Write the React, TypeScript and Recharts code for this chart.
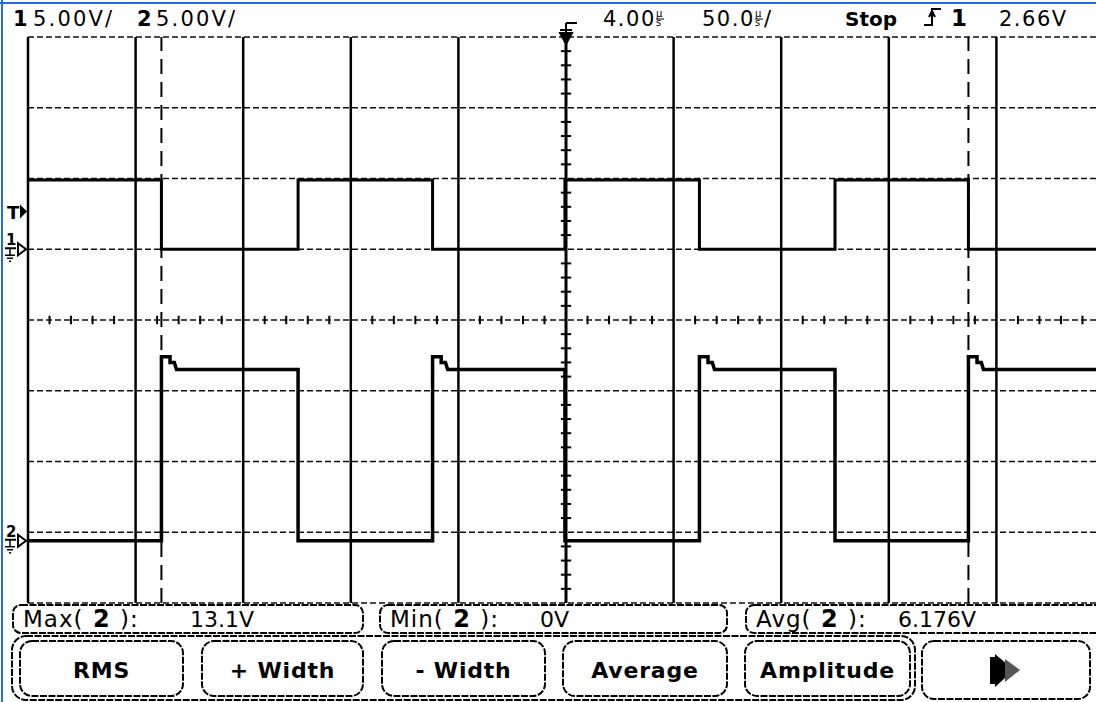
import React from "react";
import { LineChart, Line, XAxis, YAxis, ReferenceLine, ReferenceDot } from "recharts";

const W = 1096;
const H = 702;
const PLOT_LEFT = 28;
const PLOT_TOP = 37;
const PLOT_BOTTOM = 603;

// time base: 50 µs/div, delay 4 µs
const delayUs = 4;
const timeGrid = [-246, -196, -146, -96, -46, 4, 54, 104, 154, 204, 254];
// vertical divisions
const divGrid = [-4, -3, -2, -1, 0, 1, 2, 3, 4];

// channel 1 (5 V/div)
const ch1Times = [-246, -184, -184, -120.5, -120.5, -58, -58, 3.5, 3.5, 66, 66, 129, 129, 191, 191, 254];
const ch1Volts = [4.9, 4.9, 0, 0, 4.9, 4.9, 0, 0, 4.9, 4.9, 0, 0, 4.9, 4.9, 0, 0];

// channel 2 (5 V/div), overshoot on each rising edge
const ch2Times = [
  -246, -184, -184, -180, -180, -178, -177, -120.5, -120.5,
  -58, -58, -54, -54, -52, -51, 3.5, 3.5,
  66, 66, 70, 70, 72, 73, 129, 129,
  191, 191, 195, 195, 197, 198, 254,
];
const ch2Volts = [
  0, 0, 13.0, 13.0, 12.6, 12.6, 12.1, 12.1, 0,
  0, 13.0, 13.0, 12.6, 12.6, 12.1, 12.1, 0,
  0, 13.0, 13.0, 12.6, 12.6, 12.1, 12.1, 0,
  0, 13.0, 13.0, 12.6, 12.6, 12.1, 12.1,
];

const cursorTimes = [-184, 191];
const triggerLevel = 2.66;
const ch1Domain = [-25, 15];
const ch2Domain = [-4.4, 35.6];

const measurements = [
  { name: "Max", value: "13.1V", x: 13, w: 350, valueX: 190 },
  { name: "Min", value: "0V", x: 380, w: 347, valueX: 540 },
  { name: "Avg", value: "6.176V", x: 746, w: 360, valueX: 898 },
];
const softkeys = [
  { label: "RMS", x: 20, w: 163 },
  { label: "+ Width", x: 202, w: 161 },
  { label: "- Width", x: 382, w: 163 },
  { label: "Average", x: 563, w: 164 },
  { label: "Amplitude", x: 745, w: 165 },
];

const ch1Data = ch1Times.map((t, i) => ({ t, v: ch1Volts[i] }));
const ch2Data = ch2Times.map((t, i) => ({ t, v: ch2Volts[i] }));
const minorTimes = timeGrid.slice(0, -1).flatMap((t) => [1, 2, 3, 4].map((k) => t + k * 10));
const minorDivs = divGrid.slice(0, -1).flatMap((d) => [1, 2, 3, 4].map((k) => d + k * 0.2));

const FONT = "'DejaVu Sans', Verdana, sans-serif";

function TriggerMark(props: any) {
  const { cx, cy } = props;
  return (
    <g>
      <text x={cx - 21} y={cy + 7} fontSize={18} fontWeight="bold" fontFamily={FONT}>
        T
      </text>
      <path d={`M${cx - 8} ${cy - 7} L${cx - 1} ${cy} L${cx - 8} ${cy + 7} Z`} fill="#000" />
    </g>
  );
}

function ChannelMark(props: any) {
  const { cx, cy, label } = props;
  return (
    <g stroke="#000" fill="none">
      <text x={cx - 22} y={cy - 4} fontSize={15} fontWeight="bold" fontFamily={FONT} fill="#000" stroke="none">
        {label}
      </text>
      <line x1={cx - 23} y1={cy - 1} x2={cx - 12} y2={cy - 1} strokeWidth={2} />
      <line x1={cx - 18} y1={cy - 1} x2={cx - 18} y2={cy + 6} strokeWidth={1.5} />
      <line x1={cx - 23} y1={cy + 6} x2={cx - 13} y2={cy + 6} strokeWidth={1.5} />
      <line x1={cx - 21} y1={cy + 9} x2={cx - 15} y2={cy + 9} strokeWidth={1.5} />
      <line x1={cx - 19} y1={cy + 12} x2={cx - 17} y2={cy + 12} strokeWidth={1.5} />
      <path d={`M${cx - 10} ${cy - 6} L${cx - 2} ${cy} L${cx - 10} ${cy + 6} Z`} strokeWidth={2} fill="#fff" />
    </g>
  );
}

function DelayMark(props: any) {
  const { cx, cy } = props;
  return (
    <g stroke="#000" strokeWidth={2}>
      <line x1={cx} y1={cy - 14} x2={cx + 11} y2={cy - 14} />
      <line x1={cx} y1={cy - 14} x2={cx} y2={cy} />
      <line x1={cx - 6} y1={cy - 7} x2={cx + 6} y2={cy - 7} />
      <path d={`M${cx - 6} ${cy - 4} L${cx + 6} ${cy - 4} L${cx} ${cy + 7} Z`} fill="#000" />
    </g>
  );
}

function MicroSec({ x, y }: { x: number; y: number }) {
  return (
    <g fontSize={10} fontFamily={FONT}>
      <text x={x} y={y - 9}>µ</text>
      <line x1={x} y1={y - 7} x2={x + 8} y2={y - 7} stroke="#000" strokeWidth={1} />
      <text x={x} y={y}>s</text>
    </g>
  );
}

function Overlay() {
  return (
    <svg width={W} height={H} style={{ position: "absolute", left: 0, top: 0, pointerEvents: "none" }}>
      <rect x={1} y={0} width={2} height={H} fill="#2b67dd" />
      <rect x={0} y={2} width={W} height={2} fill="#2b67dd" />

      <g fontFamily={FONT} fill="#000">
        <text x={13} y={26} fontSize={21} fontWeight="bold">1</text>
        <text x={33} y={26} fontSize={21} letterSpacing={2.2}>5.00V/</text>
        <text x={137} y={26} fontSize={21} fontWeight="bold">2</text>
        <text x={156} y={26} fontSize={21} letterSpacing={2.2}>5.00V/</text>

        <text x={603} y={26} fontSize={21} letterSpacing={1.5}>4.00</text>
        <MicroSec x={656} y={26} />
        <text x={702} y={26} fontSize={21} letterSpacing={1.5}>50.0</text>
        <MicroSec x={755} y={26} />
        <text x={764} y={26} fontSize={21}>/</text>
        <text x={845} y={26} fontSize={20} fontWeight="bold">Stop</text>
        <path d="M924 25 H932 V9 H941 M929 17 L932 11 L935 17" stroke="#000" strokeWidth={2} fill="none" />
        <text x={951} y={26} fontSize={23} fontWeight="bold">1</text>
        <text x={999} y={26} fontSize={21} letterSpacing={1.5}>2.66V</text>
      </g>

      <g fontFamily={FONT} fill="#000">
        {measurements.map((m) => (
          <g key={m.name}>
            <rect x={m.x} y={605} width={m.w} height={28} rx={8} fill="none" stroke="#000" strokeWidth={2} strokeDasharray="7 1.5" />
            <text x={m.x + 10} y={627} fontSize={23} letterSpacing={1}>
              {m.name}(<tspan fontWeight="bold" fontSize={24}> 2 </tspan>):
            </text>
            <text x={m.valueX} y={627} fontSize={22}>{m.value}</text>
          </g>
        ))}

        <rect x={12} y={636} width={903} height={64} rx={14} fill="none" stroke="#000" strokeWidth={2} strokeDasharray="7 1.5" />
        {softkeys.map((k) => (
          <g key={k.label}>
            <rect x={k.x} y={641} width={k.w} height={55} rx={12} fill="none" stroke="#000" strokeWidth={2} strokeDasharray="7 1.5" />
            <text x={k.x + k.w / 2} y={678} fontSize={22} fontWeight="bold" letterSpacing={0.8} textAnchor="middle">
              {k.label}
            </text>
          </g>
        ))}
        <rect x={922} y={641} width={168} height={58} rx={12} fill="none" stroke="#000" strokeWidth={2} strokeDasharray="7 1.5" />
        <rect x={990} y={657} width={6} height={27} fill="#000" />
        <path d="M995 654 L1014 670 L995 687 Z" fill="#000" />
        <path d="M1005 659 L1020 670 L1005 682 Z" fill="#555" />
      </g>
    </svg>
  );
}

export default function App() {
  return (
    <div
      style={{
        position: "fixed",
        left: 0,
        top: 0,
        width: W,
        height: H,
        overflow: "hidden",
        background: "#fff",
        fontFamily: FONT,
      }}
    >
      <div style={{ position: "absolute", left: 0, top: 0 }}>
        <LineChart
          width={1112}
          height={H}
          margin={{ top: PLOT_TOP, right: 8, bottom: H - PLOT_BOTTOM, left: PLOT_LEFT }}
        >
          <XAxis type="number" dataKey="t" domain={[-246, 254]} hide allowDataOverflow />
          <YAxis yAxisId="div" type="number" domain={[-4, 4]} hide allowDataOverflow />
          <YAxis yAxisId="ch1" type="number" domain={ch1Domain} hide allowDataOverflow />
          <YAxis yAxisId="ch2" type="number" domain={ch2Domain} hide allowDataOverflow />

          {divGrid.map((d) => (
            <ReferenceLine key={`h${d}`} yAxisId="div" y={d} stroke="#111" strokeWidth={1.5} strokeDasharray="6 3" />
          ))}
          {timeGrid.map((t) => (
            <ReferenceLine key={`v${t}`} yAxisId="div" x={t} stroke="#000" strokeWidth={t === delayUs ? 3 : 2.5} />
          ))}
          {minorTimes.map((t) => (
            <ReferenceLine
              key={`mt${t}`}
              yAxisId="div"
              segment={[{ x: t, y: -0.06 }, { x: t, y: 0.06 }]}
              stroke="#000"
              strokeWidth={2}
            />
          ))}
          {minorDivs.map((d) => (
            <ReferenceLine
              key={`md${d}`}
              yAxisId="div"
              segment={[{ x: delayUs - 2.4, y: d }, { x: delayUs + 2.4, y: d }]}
              stroke="#000"
              strokeWidth={2}
            />
          ))}
          {cursorTimes.map((t) => (
            <ReferenceLine key={`c${t}`} yAxisId="div" x={t} stroke="#000" strokeWidth={2} strokeDasharray="15 8" />
          ))}

          <Line
            data={ch1Data}
            dataKey="v"
            yAxisId="ch1"
            type="linear"
            stroke="#000"
            strokeWidth={3}
            dot={false}
            isAnimationActive={false}
          />
          <Line
            data={ch2Data}
            dataKey="v"
            yAxisId="ch2"
            type="linear"
            stroke="#000"
            strokeWidth={3.5}
            dot={false}
            isAnimationActive={false}
          />

          <ReferenceDot x={-246} y={triggerLevel} yAxisId="ch1" ifOverflow="visible" shape={(p: any) => <TriggerMark {...p} />} />
          <ReferenceDot x={-246} y={0} yAxisId="ch1" ifOverflow="visible" shape={(p: any) => <ChannelMark {...p} label="1" />} />
          <ReferenceDot x={-246} y={0} yAxisId="ch2" ifOverflow="visible" shape={(p: any) => <ChannelMark {...p} label="2" />} />
          <ReferenceDot x={delayUs} y={4} yAxisId="div" ifOverflow="visible" shape={(p: any) => <DelayMark {...p} />} />
        </LineChart>
      </div>
      <Overlay />
    </div>
  );
}
